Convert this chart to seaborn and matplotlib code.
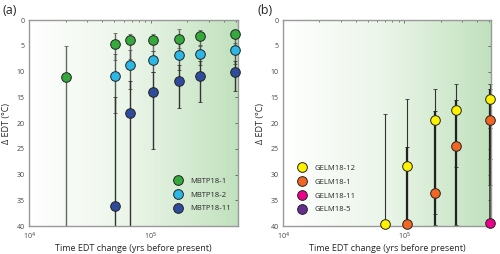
import numpy as np
import pandas as pd
import matplotlib
matplotlib.use("Agg")
import matplotlib.pyplot as plt
from matplotlib.colors import LinearSegmentedColormap
from matplotlib.lines import Line2D
import seaborn as sns

sns.set_style("white")
plt.rcParams['font.family'] = ['Open Sans', 'DejaVu Sans']

# panel (a) - MBTP18 samples
age_a = [2.0e4, 5.1e4, 6.8e4, 1.04e5, 1.7e5, 2.55e5, 4.9e5]
mb1_y = [11, 4.7, 3.8, 3.8, 3.7, 3.0, 2.8]
mb1_lo = [5, 2.6, 2.7, 2.7, 1.8, 1.9, 2.0]
mb1_hi = [40, 7.8, 7.5, 6.1, 5.5, 5.0, 5.0]
mb2_y = [10.9, 8.7, 7.8, 6.8, 6.5, 5.8]
mb2_lo = [6.5, 5.8, 6.0, 4.5, 4.8, 4.5]
mb2_hi = [18, 13.4, 10, 9.7, 8.8, 8.5]
mb11_y = [36.2, 18, 13.9, 11.9, 10.9, 10]
mb11_lo = [15, 11.8, 10, 8.7, 8.0, 8.0]
mb11_hi = [40, 40, 25, 17, 15.9, 13.8]

# panel (b) - GELM18 samples
g12_x = [6.9e4, 1.05e5, 1.78e5, 2.65e5, 5.1e5]
g12_y = [39.6, 28.3, 19.4, 17.4, 15.3]
g12_lo = [18.3, 15.4, 13.3, 12.4, 12.4]
g12_hi = [40, 40, 37.7, 28.5, 21]
g1_x = [1.05e5, 1.78e5, 2.65e5, 5.1e5]
g1_y = [39.6, 33.6, 24.5, 19.5]
g1_lo = [24.6, 17.6, 15.5, 13.3]
g1_hi = [40, 39.7, 39.7, 32]
g11_x = [5.1e5]
g11_y = [39.4]
g11_lo = [27]
g11_hi = [40]
g5_x = []
g5_y = []

series_a = [
    ("MBTP18-1", age_a, mb1_y, mb1_lo, mb1_hi, "#34a93c", "#666666", 1.0),
    ("MBTP18-2", age_a[1:], mb2_y, mb2_lo, mb2_hi, "#2bb8e6", "#555555", 1.0),
    ("MBTP18-11", age_a[1:], mb11_y, mb11_lo, mb11_hi, "#2f4b9c", "#333333", 1.0),
]
series_b = [
    ("GELM18-12", g12_x, g12_y, g12_lo, g12_hi, "#fff200", "#333333", 0.8),
    ("GELM18-1", g1_x, g1_y, g1_lo, g1_hi, "#f26522", "#222222", 1.6),
    ("GELM18-11", g11_x, g11_y, g11_lo, g11_hi, "#ec008c", "#333333", 1.2),
    ("GELM18-5", g5_x, g5_y, [], [], "#662d91", "#333333", 1.0),
]

fig = plt.figure(figsize=(5, 2.54), dpi=100)
ax_a = fig.add_axes([0.058, 0.110, 0.418, 0.811])
ax_b = fig.add_axes([0.566, 0.110, 0.416, 0.811])

bg = LinearSegmentedColormap.from_list("bg", ["#ffffff", "#eaf5e8", "#c1e1bd"])


def draw(ax, series, legend_loc, anchor, label):
    ax.imshow(np.linspace(0, 1, 256).reshape(1, -1), cmap=bg, aspect="auto",
              extent=[0, 1, 0, 1], transform=ax.transAxes, zorder=0)
    # error bars first, then points on top
    for name, x, y, lo, hi, col, ecol, lw in series:
        if len(x) == 0:
            continue
        yerr = [np.array(y) - np.array(lo), np.array(hi) - np.array(y)]
        ax.errorbar(x, y, yerr=yerr, fmt="none", ecolor=ecol, elinewidth=lw,
                    capsize=1.5, capthick=0.6, zorder=2, clip_on=False)
    for name, x, y, lo, hi, col, ecol, lw in series:
        if len(x) == 0:
            continue
        df = pd.DataFrame({"age": x, "dedt": y})
        sns.scatterplot(data=df, x="age", y="dedt", ax=ax, color=col, s=48,
                        edgecolor="#222222", linewidth=0.7, zorder=3,
                        clip_on=False, legend=False)
    ax.set_xscale("log")
    ax.set_xlim(1e4, 5.2e5)
    ax.set_ylim(40, 0)
    ax.set_yticks(range(0, 41, 5))
    ax.set_xticks([1e4, 1e5])
    ax.set_xticklabels(["10$^4$", "10$^5$"])
    ax.tick_params(axis="both", which="both", direction="in", labelsize=5,
                   length=2, width=0.5, colors="#444444", top=True, right=True)
    ax.tick_params(axis="x", which="both", pad=3.5)
    ax.tick_params(axis="y", which="both", pad=3)
    ax.tick_params(axis="x", which="minor", length=1.5)
    for sp in ax.spines.values():
        sp.set_color("#999999")
        sp.set_linewidth(1.0)
    ax.set_xlabel("Time EDT change (yrs before present)", fontsize=6.5, labelpad=1)
    ax.set_ylabel("Δ EDT (°C)", fontsize=6.5, labelpad=4)
    handles = [Line2D([], [], marker="o", ls="", markersize=7,
                      markerfacecolor=s[5], markeredgecolor="#222222",
                      markeredgewidth=0.7, label=s[0]) for s in series]
    ax.legend(handles=handles, loc=legend_loc, bbox_to_anchor=anchor,
              frameon=False, fontsize=5.5, handletextpad=0.6,
              labelspacing=0.85, borderaxespad=0.3)
    ax.text(-0.125, 1.015, label, transform=ax.transAxes, fontsize=9,
            ha="left", va="bottom")


draw(ax_a, series_a, "lower right", (0.99, 0.04), "(a)")
draw(ax_b, series_b, "center left", (0.03, 0.18), "(b)")

fig.savefig("out.png", dpi=100)
